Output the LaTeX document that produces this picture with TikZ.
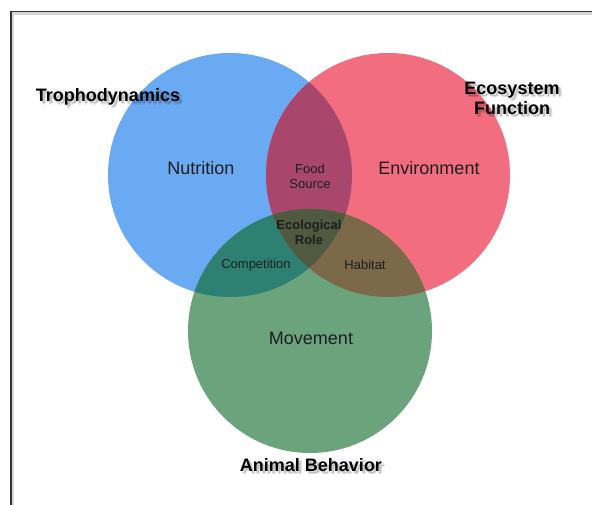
\documentclass[tikz,border=0pt]{standalone}
\usepackage{fontspec}
\setmainfont{Liberation Sans}
\definecolor{cblue}{HTML}{6AAAF2}
\definecolor{cred}{HTML}{F26D80}
\definecolor{cgreen}{HTML}{6BA37D}
\definecolor{cbr}{HTML}{A8476B}
\definecolor{cbg}{HTML}{2E8073}
\definecolor{crg}{HTML}{7B6949}
\definecolor{cbrg}{HTML}{4F5A40}
\definecolor{frame}{HTML}{333333}
\definecolor{ink}{HTML}{1E1E1E}
\tikzset{
  inner label/.style={font=\fontsize{18}{20}\selectfont, text=ink, align=center},
  small label/.style={font=\fontsize{13}{15}\selectfont, text=ink, align=center},
  small bold/.style={font=\bfseries\fontsize{13}{15}\selectfont, text=ink, align=center},
  outer label/.style={font=\bfseries\fontsize{18}{20}\selectfont, text=black, align=center},
  shade copy/.style={font=\bfseries\fontsize{18}{20}\selectfont, text=black, text opacity=0.07, align=center},
}
% outer title with a soft drop shadow
\newcommand{\shadowlabel}[3]{%
  \foreach \dx/\dy in {2/2,3/3,2/3.5,3.5/2}{%
    \node[shade copy] at ([xshift=\dx pt,yshift=-\dy pt]#2) {#3};}%
  \node[outer label] (#1) at (#2) {#3};}
\begin{document}
\begin{tikzpicture}[x=1pt,y=-1pt]
\useasboundingbox (0,0) rectangle (592,505);
\clip (0,0) rectangle (592,505);
\fill[white] (0,0) rectangle (592,505);
% frame
\draw[frame!20, line width=3pt] (12.5,520) -- (12.5,14) -- (600,14);
\draw[frame, line width=1.8pt] (11,520) -- (11,11.5) -- (600,11.5);
% circle centres
\coordinate (B) at (230,175);
\coordinate (R) at (388,175);
\coordinate (G) at (310,331);
\def\rad{122}
% base discs
\fill[cblue] (B) circle (\rad);
\fill[cred] (R) circle (\rad);
\fill[cgreen] (G) circle (\rad);
% pairwise overlaps
\begin{scope}
  \clip (B) circle (\rad);
  \fill[cbr] (R) circle (\rad);
  \fill[cbg] (G) circle (\rad);
\end{scope}
\begin{scope}
  \clip (R) circle (\rad);
  \fill[crg] (G) circle (\rad);
\end{scope}
% triple overlap
\begin{scope}
  \clip (B) circle (\rad);
  \clip (R) circle (\rad);
  \fill[cbrg] (G) circle (\rad);
\end{scope}
% labels inside the diagram
\node[inner label] (nut) at (201,168) {Nutrition};
\node[inner label] (env) at (429,168) {Environment};
\node[inner label] (mov) at (311,338) {Movement};
\node[small label] (food) at (310,176) {Food\\Source};
\node[small bold] (eco) at (309,232) {Ecological\\Role};
\node[small label] (comp) at (256,265) {Competition};
\node[small label] (hab) at (365,265) {Habitat};
% titles of the three sets
\shadowlabel{tro}{108,97}{Trophodynamics}
\shadowlabel{ecf}{512,98}{Ecosystem\\Function}
\shadowlabel{ani}{311,465}{Animal Behavior}
\end{tikzpicture}
\end{document}
